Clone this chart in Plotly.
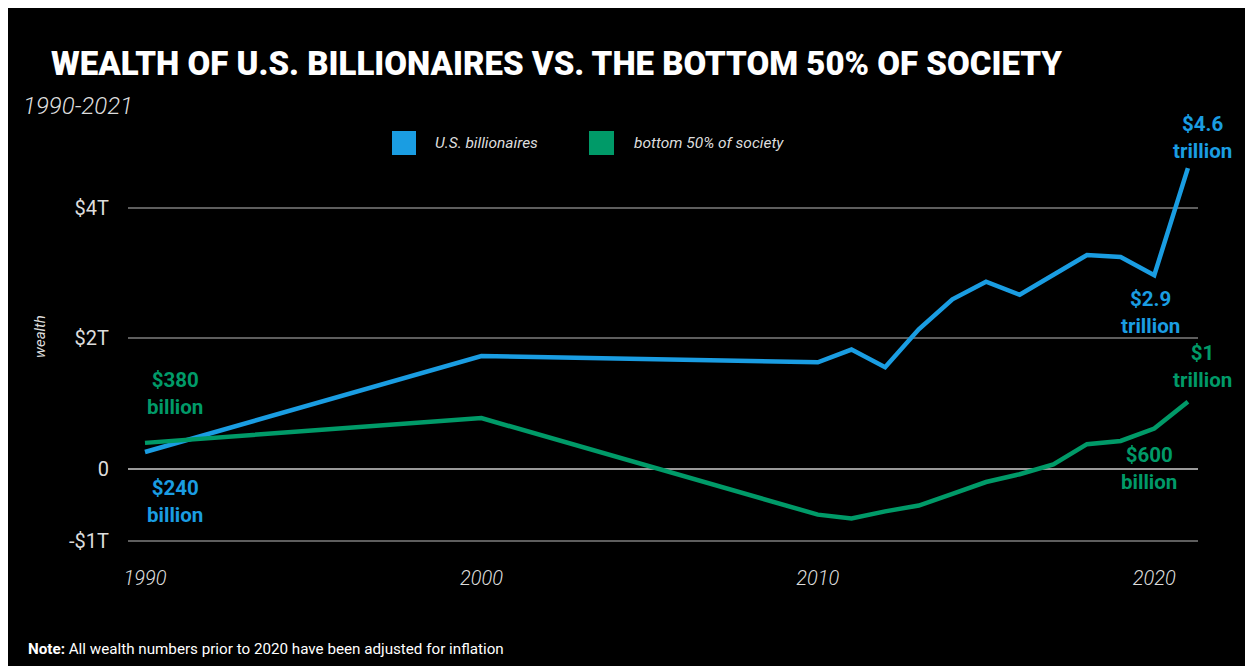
import plotly.graph_objects as go

# ---------------- data (wealth in trillions of US$) ----------------
years = [1990, 2000, 2010, 2011, 2012, 2013, 2014, 2015, 2016, 2017, 2018, 2019, 2020, 2021]
billionaires = [0.26, 1.73, 1.635, 1.83, 1.56, 2.14, 2.60, 2.87, 2.67, 2.97, 3.28, 3.25, 2.97, 4.61]
bottom50 = [0.40, 0.78, -0.70, -0.76, -0.65, -0.56, -0.38, -0.20, -0.08, 0.07, 0.38, 0.43, 0.62, 1.03]

series_names = ["U.S. billionaires", "bottom 50% of society"]
x_tickvals = [1990, 2000, 2010, 2020]
x_ticktext = ["1990", "2000", "2010", "2020"]
# the reference draws its -$1T gridline slightly below a linear -1
y_tickvals = [-1.1, 0, 2, 4]
y_ticktext = ["-$1T", "0", "$2T", "$4T"]

# ---------------- styling ----------------
BLUE = "#1a9de2"
GREEN = "#009a68"
W, H = 1253, 666
L, R, T, B = 120, 1190, 122, 552
FONT = "Roboto, Lato, sans-serif"


def px(x):
    return (x - L) / (R - L)


def py(y):
    return (B - y) / (B - T)


fig = go.Figure()
fig.add_trace(go.Scatter(x=years, y=billionaires, mode="lines", name=series_names[0],
                         line=dict(color=BLUE, width=4.5), showlegend=False))
fig.add_trace(go.Scatter(x=years, y=bottom50, mode="lines", name=series_names[1],
                         line=dict(color=GREEN, width=4.5), showlegend=False))

shapes = [
    # legend squares
    dict(type="rect", xref="paper", yref="paper", x0=px(384), x1=px(408), y0=py(147), y1=py(123),
         fillcolor=BLUE, line=dict(width=0)),
    dict(type="rect", xref="paper", yref="paper", x0=px(581), x1=px(606), y0=py(147), y1=py(123),
         fillcolor=GREEN, line=dict(width=0)),
]

ann = []
# title / subtitle / note
ann.append(dict(text="WEALTH OF U.S. BILLIONAIRES VS. THE BOTTOM 50% OF SOCIETY",
                x=px(41), y=py(56), xref="paper", yref="paper", xanchor="left", yanchor="middle",
                showarrow=False, font=dict(family=FONT, size=33, weight=900, color="white")))
ann.append(dict(text="<i>1990-2021</i>", x=px(13), y=py(98), xref="paper", yref="paper",
                xanchor="left", yanchor="middle", showarrow=False,
                font=dict(family=FONT, size=24, weight=300, color="#dddddd")))
ann.append(dict(text="<b>Note:</b> All wealth numbers prior to 2020 have been adjusted for inflation",
                x=px(18), y=py(641), xref="paper", yref="paper", xanchor="left", yanchor="middle",
                showarrow=False, font=dict(family=FONT, size=15.2, color="white")))
# legend labels
ann.append(dict(text="<i>" + series_names[0] + "</i>", x=px(425), y=py(135), xref="paper", yref="paper",
                xanchor="left", yanchor="middle", showarrow=False,
                font=dict(family=FONT, size=15.5, weight=400, color="#dddddd")))
ann.append(dict(text="<i>" + series_names[1] + "</i>", x=px(624), y=py(135), xref="paper", yref="paper",
                xanchor="left", yanchor="middle", showarrow=False,
                font=dict(family=FONT, size=15.5, weight=400, color="#dddddd")))
# y axis title
ann.append(dict(text="<i>wealth</i>", x=px(32), y=py(329), xref="paper", yref="paper",
                xanchor="center", yanchor="middle", textangle=-90, showarrow=False,
                font=dict(family=FONT, size=15, weight=400, color="#dddddd")))

# value call-outs anchored to data points
callouts = [
    (years[0], billionaires[0], "$240<br>billion", BLUE, 30, -49),
    (years[0], bottom50[0], "$380<br>billion", GREEN, 30, 49),
    (years[-2], billionaires[-2], "$2.9<br>trillion", BLUE, -4, -37),
    (years[-1], billionaires[-1], "$4.6<br>trillion", BLUE, 15, 31),
    (years[-2], bottom50[-2], "$600<br>billion", GREEN, -5, -40),
    (years[-1], bottom50[-1], "$1<br>trillion", GREEN, 15, 35),
]
for x, y, txt, col, xs, ys in callouts:
    ann.append(dict(text=txt, x=x, y=y, xref="x", yref="y", xshift=xs, yshift=ys,
                    xanchor="center", yanchor="middle", showarrow=False,
                    font=dict(family=FONT, size=20.5, weight=700, color=col)))

fig.update_layout(
    width=W, height=H,
    margin=dict(l=L, r=W - R, t=T, b=H - B, pad=0),
    paper_bgcolor="black", plot_bgcolor="black",
    showlegend=False,
    shapes=shapes, annotations=ann,
    xaxis=dict(range=[1989.495, 2021.3], tickvals=x_tickvals,
               ticktext=["<i>" + t + "</i>" for t in x_ticktext],
               showgrid=False, zeroline=False, showline=False, ticks="",
               tickfont=dict(family=FONT, size=20, weight=300, color="#dddddd"),
               ticklabelstandoff=4),
    yaxis=dict(range=[-1.395, 5.195], tickvals=y_tickvals, ticktext=y_ticktext,
               showgrid=True, gridcolor="#5e5e5e", gridwidth=2,
               zeroline=True, zerolinecolor="#9a9a9a", zerolinewidth=2,
               showline=False, ticks="",
               tickfont=dict(family=FONT, size=20, weight=400, color="#dddddd"),
               ticklabelstandoff=18),
)

fig.write_html("out.html")
